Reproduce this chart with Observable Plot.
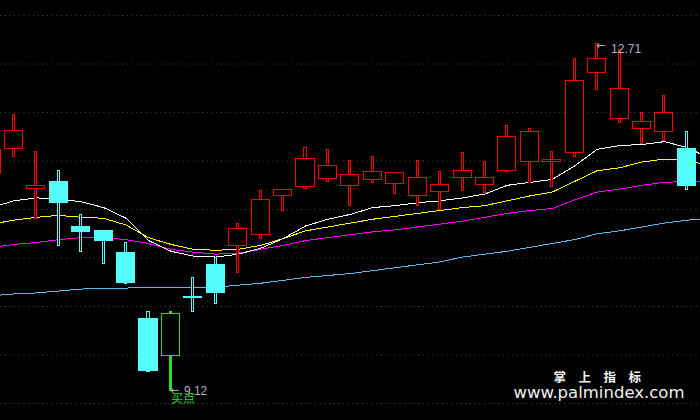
<!DOCTYPE html>
<html><head><meta charset="utf-8">
<script src="https://cdn.jsdelivr.net/npm/d3@7"></script>
<script src="https://cdn.jsdelivr.net/npm/@observablehq/plot@0.6"></script>
<style>
html,body{margin:0;padding:0;background:#000;overflow:hidden;}
#chart{width:700px;height:420px;}
</style>
</head><body><div id="chart"></div>
<script>
// ---- data (price units) ----
const openP  = [11.37,11.62,11.21,11.28,10.82,10.78,10.55, 9.87, 9.49,10.10,10.43,10.62,10.74,11.14,11.23,11.31,11.24,11.30,11.26,11.14,11.18,11.32,11.25,11.40,11.49,11.49,11.58,12.41,11.93,11.83,11.80,11.62];
const highP  = [11.71,11.97,11.59,11.40,10.94,10.78,10.65, 9.94, 9.95,10.29,10.50,10.85,11.19,11.20,11.63,11.61,11.50,11.54,11.38,11.50,11.39,11.58,11.49,11.86,11.83,11.59,12.55,12.71,12.64,12.00,12.17,11.80];
const lowP   = [11.30,11.54,10.90,10.62,10.56,10.44,10.23, 9.32, 9.12, 9.94,10.03,10.35,10.70,10.98,11.21,11.28,11.04,11.27,11.16,11.04,11.00,11.19,11.17,11.39,11.27,11.23,11.54,12.23,11.89,11.68,11.71,11.20];
const closeP = [11.61,11.81,11.24,11.07,10.77,10.68,10.24, 9.34, 9.92,10.09,10.14,10.80,11.10,11.20,11.52,11.45,11.36,11.39,11.38,11.33,11.25,11.40,11.33,11.75,11.80,11.51,12.33,12.55,12.24,11.90,12.00,11.24];
const ma5  = [11.02,11.09,11.12,11.11,11.08,11.02,10.91,10.68,10.57,10.52,10.51,10.54,10.60,10.70,10.83,10.90,10.95,11.02,11.04,11.07,11.09,11.12,11.16,11.25,11.28,11.31,11.45,11.62,11.66,11.67,11.70,11.64,11.53];
const ma10 = [10.85,10.89,10.92,10.94,10.92,10.91,10.84,10.71,10.64,10.59,10.58,10.59,10.63,10.70,10.78,10.82,10.86,10.90,10.93,10.96,10.99,11.02,11.04,11.09,11.14,11.18,11.29,11.40,11.43,11.49,11.52,11.51,11.45];
const ma20 = [10.61,10.64,10.66,10.69,10.71,10.71,10.69,10.65,10.59,10.56,10.54,10.55,10.59,10.63,10.68,10.71,10.74,10.77,10.79,10.82,10.85,10.88,10.92,10.96,10.99,11.01,11.10,11.18,11.21,11.25,11.28,11.29,11.29];
const ma60 = [10.11,10.13,10.14,10.16,10.18,10.19,10.19,10.20,10.20,10.20,10.20,10.22,10.24,10.27,10.30,10.32,10.34,10.37,10.40,10.43,10.46,10.51,10.54,10.57,10.61,10.65,10.69,10.75,10.78,10.82,10.86,10.89,10.91];
const gridTicks = [9.0,9.5,10.0,10.5,11.0,11.5,12.0,12.5,13.0];
const buyIdx = [8];
const buyLabel = ["买点"];
const watermarkCN = ["掌　上　指　标"];
const watermarkURL = ["www.palmindex.com"];

// ---- derived tables ----
const slots = ma5.map((_, i) => i);
const candles = openP.map((o, i) => ({
  i, open: o, high: highP[i], low: lowP[i], close: closeP[i],
  up: closeP[i] >= o, buy: buyIdx.includes(i)
}));
const normal = candles.filter(d => !d.buy);
const buys = candles.filter(d => d.buy);
const hiC = candles.reduce((a, b) => (b.high > a.high ? b : a));
const loC = candles.reduce((a, b) => (b.low < a.low ? b : a));
const fmt = d3.format(".2f");

const RED = "#ff0000", CYAN = "#54fcfc", GREEN = "#22e022";
const colorOf = d => d.buy ? GREEN : (d.up ? RED : CYAN);
const lineSpecs = [
  {v: ma60, c: "#5ab8f0"},
  {v: ma20, c: "#ff00ff"},
  {v: ma10, c: "#ffff00"},
  {v: ma5,  c: "#ffffff"}
];
const labelFont = "Liberation Sans, Arial, sans-serif";
const labelColor = "#aab4be";
const left = d => d.i - 0.5, right = d => d.i + 0.5;
// step = 22.43px per slot; inset values give body ≈19px, wick ≈3px
const bodyInset = 2.2, wickInset = 10.2, thickInset = 9.7;

const chart = Plot.plot({
  width: 700, height: 420,
  margin: 0,
  style: {background: "#000", color: "#fff"},
  x: {type: "linear", domain: [0.4013, 31.610], axis: null},
  y: {domain: [8.825, 13.155], axis: null},
  marks: [
    Plot.ruleY(gridTicks, {stroke: "#4a4a4a", strokeDasharray: "1,3.7", strokeWidth: 1}),
    ...lineSpecs.map(s => Plot.line(slots, {x: i => i, y: i => s.v[i], stroke: s.c, strokeWidth: 1, shapeRendering: "crispEdges"})),
    // wicks (hollow, thin)
    Plot.rectY(normal, {x1: left, x2: right, y1: "low", y2: "high", fill: "#000", stroke: colorOf, strokeWidth: 1, insetLeft: wickInset, insetRight: wickInset, shapeRendering: "crispEdges"}),
    // bodies
    Plot.rectY(normal, {x1: left, x2: right, y1: "open", y2: "close", fill: d => d.up ? "#000" : CYAN, stroke: colorOf, strokeWidth: 1, insetLeft: bodyInset, insetRight: bodyInset, shapeRendering: "crispEdges"}),
    // buy-point candle: solid thick wick, hollow green body
    Plot.rectY(buys, {x1: left, x2: right, y1: "low", y2: "high", fill: GREEN, insetLeft: thickInset, insetRight: thickInset, shapeRendering: "crispEdges"}),
    Plot.rectY(buys, {x1: left, x2: right, y1: "open", y2: "close", fill: "#000", stroke: GREEN, strokeWidth: 1, insetLeft: bodyInset, insetRight: bodyInset, shapeRendering: "crispEdges"}),
    // high / low annotations
    Plot.text([hiC], {x: "i", y: "high", text: () => "←", textAnchor: "start", dx: -1, dy: 2, fill: labelColor, fontSize: 11, fontFamily: "DejaVu Sans"}),
    Plot.text([hiC], {x: "i", y: "high", text: d => fmt(d.high), textAnchor: "start", dx: 14, dy: 5, fill: labelColor, fontSize: 12, fontFamily: labelFont}),
    Plot.text([loC], {x: "i", y: "low", text: () => "←", textAnchor: "start", dx: -1, dy: -1, fill: labelColor, fontSize: 11, fontFamily: "DejaVu Sans"}),
    Plot.text([loC], {x: "i", y: "low", text: d => fmt(d.low), textAnchor: "start", dx: 13, dy: -1, fill: labelColor, fontSize: 12, fontFamily: labelFont}),
    Plot.text(buys, {x: "i", y: "low", text: () => buyLabel[0], textAnchor: "start", dx: 0, dy: 7, fill: GREEN, fontSize: 12, fontFamily: "Noto Sans CJK SC"}),
    // watermark
    Plot.text(watermarkCN, {frameAnchor: "bottom-right", text: d => d, textAnchor: "start", dx: -147, dy: -39, fill: "#f0f0f0", fontSize: 12.5, fontWeight: "bold", fontFamily: "Noto Sans CJK SC"}),
    Plot.text(watermarkURL, {frameAnchor: "bottom-right", text: d => d, textAnchor: "end", dx: -16, dy: -23, fill: "#f0f0f0", fontSize: 16.5, fontFamily: "DejaVu Sans"})
  ]
});
document.getElementById("chart").appendChild(chart);
</script>
</body></html>
